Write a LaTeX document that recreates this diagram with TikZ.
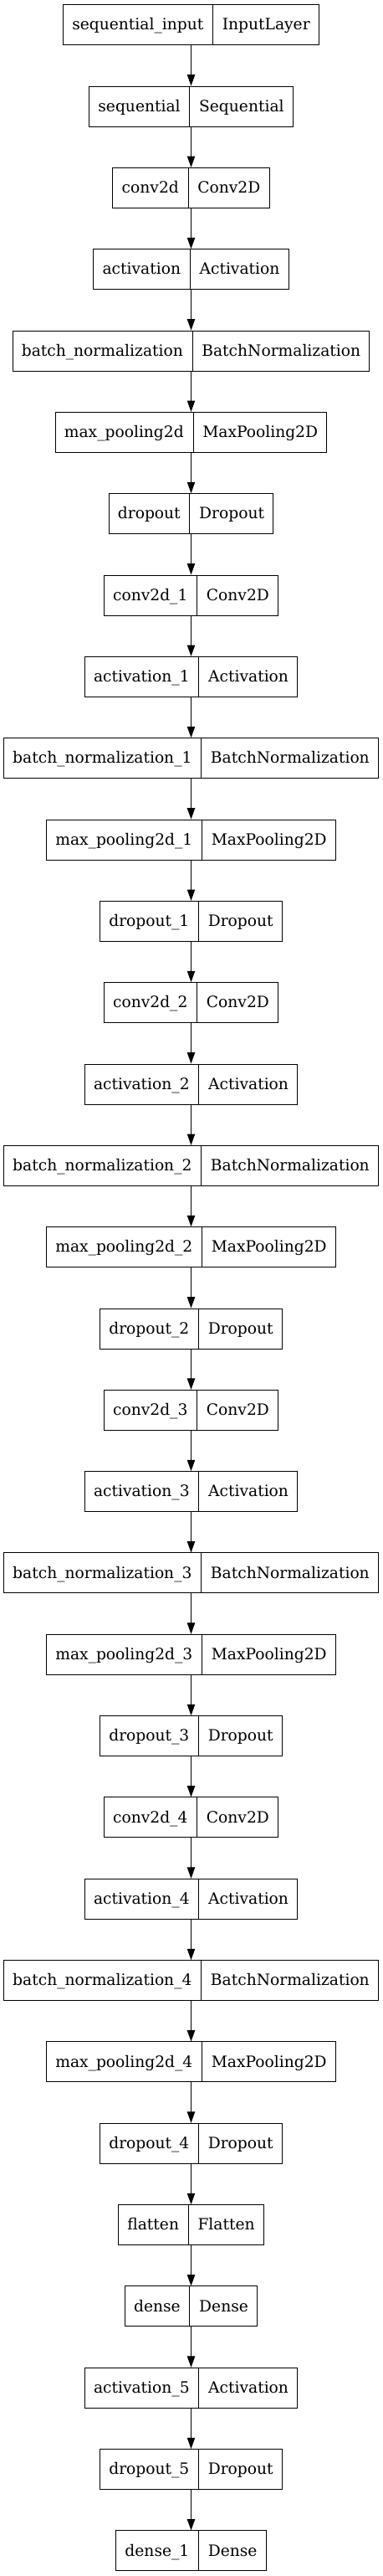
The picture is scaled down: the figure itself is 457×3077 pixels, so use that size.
\documentclass[tikz,border=0pt]{standalone}
\usepackage{fontspec}
\setmainfont{DejaVu Serif}
\usetikzlibrary{shapes.multipart,arrows.meta}
\tikzset{
  layer/.style={draw, line width=0.75pt, rectangle split, rectangle split horizontal,
    rectangle split parts=2, inner xsep=8.06pt, inner ysep=0pt,
    font=\fontsize{14pt}{16pt}\selectfont},
  conn/.style={-{Triangle[length=10pt,width=7pt]}, line width=0.75pt}
}
\newcommand\lstrut{\rule[-13.3pt]{0pt}{36pt}}
\begin{document}
\begin{tikzpicture}[x=0.75pt,y=-0.75pt]
\useasboundingbox (0,0) rectangle (457,3077);
\foreach \a/\b [count=\i from 0] in {
  sequential\_input/InputLayer,
  sequential/Sequential,
  conv2d/Conv2D,
  activation/Activation,
  batch\_normalization/BatchNormalization,
  max\_pooling2d/MaxPooling2D,
  dropout/Dropout,
  conv2d\_1/Conv2D,
  activation\_1/Activation,
  batch\_normalization\_1/BatchNormalization,
  max\_pooling2d\_1/MaxPooling2D,
  dropout\_1/Dropout,
  conv2d\_2/Conv2D,
  activation\_2/Activation,
  batch\_normalization\_2/BatchNormalization,
  max\_pooling2d\_2/MaxPooling2D,
  dropout\_2/Dropout,
  conv2d\_3/Conv2D,
  activation\_3/Activation,
  batch\_normalization\_3/BatchNormalization,
  max\_pooling2d\_3/MaxPooling2D,
  dropout\_3/Dropout,
  conv2d\_4/Conv2D,
  activation\_4/Activation,
  batch\_normalization\_4/BatchNormalization,
  max\_pooling2d\_4/MaxPooling2D,
  dropout\_4/Dropout,
  flatten/Flatten,
  dense/Dense,
  activation\_5/Activation,
  dropout\_5/Dropout,
  dense\_1/Dense}
{
  \node[layer] (n\i) at (228.5, 29.7+97.33*\i) {\lstrut\a\nodepart{two}\lstrut\b};
}
\foreach \i [evaluate=\i as \j using int(\i+1)] in {0,...,30}
  \draw[conn] (n\i.south) -- (n\j.north);
\end{tikzpicture}
\end{document}
